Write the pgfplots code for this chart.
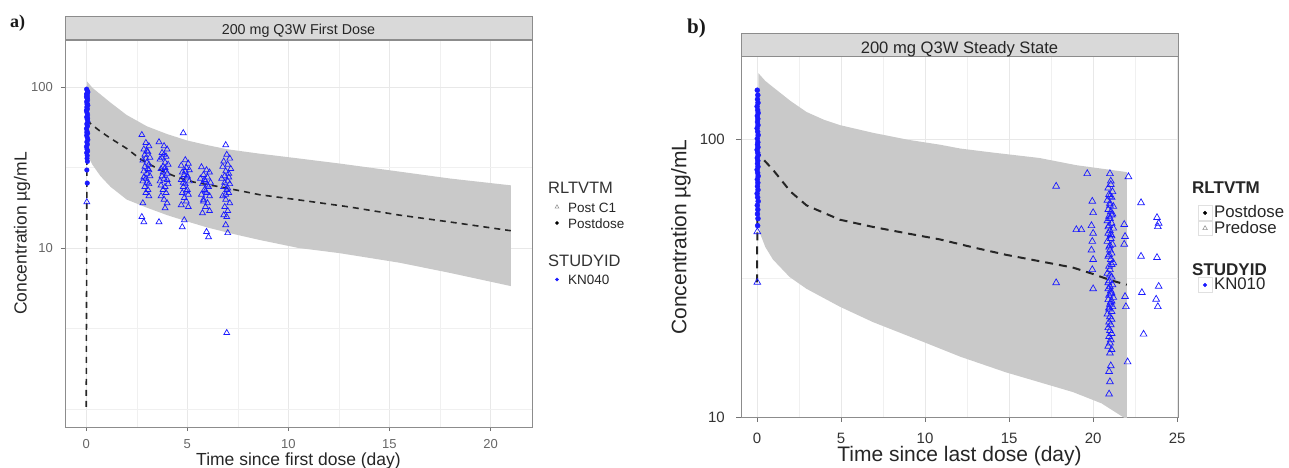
\documentclass[border=0pt]{standalone}
\usepackage{pgfplots}
\pgfplotsset{compat=1.18}
\usepackage{fontspec}
\setmainfont{Liberation Sans}
\newfontfamily\serifb{Liberation Serif}
\definecolor{band}{HTML}{C9C9C9}
\definecolor{strip}{HTML}{D9D9D9}
\definecolor{ptblue}{HTML}{1A1AFF}
\newcommand{\fs}[1]{\fontsize{#1}{#1}\selectfont}
\begin{document}
\begin{tikzpicture}
\useasboundingbox (0pt,0pt) rectangle (1289pt,467pt);
%================ panel a =================
\begin{axis}[scale only axis, anchor=south west, ymode=log, grid=both,
  /pgf/number format/assume math mode=true,
  major grid style={line width=0.8pt, color=black!9},
  minor grid style={line width=0.5pt, color=black!6},
  tick align=outside, tick pos=left, major tick length=4pt, minor tick length=0pt,
  tick style={black!55, line width=0.8pt},
  axis line style={black!45, line width=1pt},
  at={(65pt,40pt)}, width=467pt, height=387pt,
  xmin=-1.05, xmax=22.05, ymin=0.773, ymax=195.8,
  xtick={0,5,10,15,20}, minor xtick={2.5,7.5,12.5,17.5},
  ytick={10,100}, yticklabels={10,100}, minor ytick={1,3.162,31.62},
  xticklabel style={anchor=north, inner sep=0pt, font=\fs{13}, text=black!60, yshift=-8.4pt},
  yticklabel style={anchor=east, inner sep=0pt, font=\fs{13}, text=black!60, xshift=-8pt},
  xlabel={Time since first dose (day)},
  ylabel={Concentration µg/mL},
  xlabel style={at={(axis description cs:0.5,-0.0866)}, anchor=center, font=\fs{17.5}, text=black!85},
  ylabel style={at={(axis description cs:-0.0921,0.5)}, anchor=center, font=\fs{17.5}, text=black!85},
]
% prediction band
\addplot[fill=band, draw=none] coordinates {
 (0.05,108) (0.3,99) (0.7,90) (1.2,80) (2,67) (3,57) (4,51) (5,46.5) (6,43.5) (7,41)
 (8.6,38.5) (10.5,36) (12.5,33.5) (15.5,29.8) (18,27) (21,24.5)
 (21,5.8) (18,7) (15.5,8.1) (12.5,9.3) (10.5,10) (8.6,11.2) (7.3,12.2) (6,13.4) (5,14.6)
 (4,16) (3,17.8) (2,20) (1.2,24) (0.7,28) (0.3,33) (0.05,38)};
% median
\addplot[black!85, line width=1.6pt, dash pattern=on 6pt off 5pt] coordinates {
 (0,1.03) (0.04,62) (0.3,58) (0.7,53) (1.2,48) (2,41.5) (2.7,35.5) (3.65,30.5) (4.5,27.5)
 (5.3,25.7) (6.9,23.6) (8.6,21.4) (10.5,19.9) (13,18) (15.5,16) (18,14.5) (21,12.8)};
% postdose observations
\addplot[only marks, mark=*, mark size=2.3pt, ptblue, mark options={draw=ptblue, fill=ptblue}] coordinates {
 (0.02,97) (0.05,95) (0.08,93) (0.03,91) (0.06,89) (0.01,87) (0.04,85) (0.07,83) (0.02,81)
 (0.05,79) (0.08,77) (0.03,75) (0.06,73) (0.01,71) (0.04,69) (0.07,67) (0.02,65) (0.05,63)
 (0.08,61) (0.03,59) (0.06,57) (0.01,55) (0.04,53) (0.07,51.5) (0.02,50) (0.05,48.5)
 (0.08,47) (0.03,45.5) (0.06,44) (0.01,42.5) (0.04,41) (0.07,40) (0.02,39) (0.05,37.5)
 (0.04,36) (0.06,34.5) (0.03,30.5) (0.05,25.3) (0.02,90) (0.06,86) (0.04,78) (0.02,72)
 (0.07,64) (0.05,58) (0.03,52)};
% post C1 observations
\addplot[only marks, mark=triangle, mark size=3.4pt, ptblue, line width=0.7pt] coordinates {
 (0.03,19.3)
 (2.75,50.4) (2.95,45) (3.1,43) (2.85,41) (3.05,39.5) (2.9,38) (3.15,36.5) (2.8,35) (3.0,34)
 (3.1,33) (2.9,32) (3.05,31) (2.85,30) (3.0,29) (3.15,28) (2.95,27) (2.8,26) (3.1,25) (2.9,24)
 (3.05,23) (2.95,22) (3.1,21) (2.8,19) (2.75,15.6) (2.85,14.5) (3.0,40) (2.95,36) (3.1,30.5)
 (2.85,27.5) (3.0,25.5)
 (3.6,45.5) (3.85,43) (4.0,41) (3.75,39) (3.95,37) (3.65,35.5) (3.9,34) (4.05,33) (3.8,32)
 (3.7,31) (3.95,30) (4.0,29) (3.75,28) (3.85,27) (3.65,26) (4.05,25) (3.9,24) (3.8,23)
 (3.95,22) (3.7,21) (3.85,20) (4.0,19) (3.9,17.7) (3.6,14.5) (3.75,36.5) (3.9,31.5)
 (3.8,29.5) (4.0,26.5) (3.7,24.5) (3.85,38)
 (4.8,51.8) (4.9,35.2) (5.05,33.5) (4.7,32.5) (4.95,31.5) (5.1,30.5) (4.75,29.5) (4.85,28.5)
 (5.0,27.5) (4.7,26.5) (5.1,26) (4.9,25) (4.8,24) (5.0,23) (4.75,22) (5.05,21.5) (4.85,20.5)
 (4.95,19.5) (4.7,18.5) (5.05,18) (4.85,14.9) (4.75,13.5) (4.9,30) (5.0,28) (4.8,25.5) (4.95,22.5)
 (5.7,31.8) (5.95,30.5) (6.1,29.5) (5.8,28.5) (6.0,27.5) (5.65,27) (5.9,26) (6.15,25.5)
 (5.75,25) (6.05,24) (5.85,23) (5.95,22) (5.7,21.5) (6.1,21) (5.8,20) (6.0,19) (5.9,18)
 (6.1,17) (5.75,16.5) (5.95,12.6) (6.05,11.7) (5.85,26.5) (6.0,24.5) (5.9,22.5) (5.8,19.5)
 (6.9,43.6) (6.95,38) (7.1,36) (6.8,34.5) (7.0,33) (6.75,32) (7.15,31) (6.9,30) (7.05,29)
 (6.85,28) (6.7,27) (7.0,26) (7.1,25) (6.8,24) (6.95,23) (7.05,22) (6.75,21) (6.9,20) (7.1,19)
 (6.85,18) (7.0,17) (6.8,16) (6.95,15.6) (6.9,13.9) (7.0,12.4) (6.95,2.97) (7.05,27.5)
 (6.85,25.5) (7.0,23.5) (6.9,21.5)};
\end{axis}
%================ panel b =================
\begin{axis}[scale only axis, anchor=south west, ymode=log, grid=both,
  /pgf/number format/assume math mode=true,
  major grid style={line width=0.8pt, color=black!9},
  minor grid style={line width=0.5pt, color=black!6},
  tick align=outside, tick pos=left, major tick length=5pt, minor tick length=0pt,
  tick style={black!55, line width=0.8pt},
  axis line style={black!45, line width=1pt},
  at={(741pt,50pt)}, width=437pt, height=360pt,
  xmin=-0.95, xmax=25.05, ymin=10, ymax=199,
  xtick={0,5,10,15,20,25}, minor xtick={2.5,7.5,12.5,17.5,22.5},
  ytick={10,100}, yticklabels={10,100}, minor ytick={31.62},
  xticklabel style={anchor=north, inner sep=0pt, font=\fs{15}, text=black!80, yshift=-11pt},
  yticklabel style={anchor=east, inner sep=0pt, font=\fs{15}, text=black!80, xshift=-11pt},
  xlabel={Time since last dose (day)},
  ylabel={Concentration µg/mL},
  xlabel style={at={(axis description cs:0.5,-0.1097)}, anchor=center, font=\fs{21}, text=black!85},
  ylabel style={at={(axis description cs:-0.1373,0.5)}, anchor=center, font=\fs{21}, text=black!85},
]
\addplot[fill=band, draw=none] coordinates {
 (0.08,174) (0.5,163) (0.95,155) (2,138) (2.95,126) (4,118) (4.93,113) (6.9,106) (9,100)
 (10.9,96) (12.1,93) (14,90) (16.8,86) (19,81) (22,76.5)
 (22,9.8) (20.5,11.2) (18.8,12.3) (14.8,14.5) (12.1,16.5) (9.86,18.7) (6.9,22) (4.93,25)
 (2.95,29) (1.94,32) (0.95,37) (0.5,41) (0.18,46) (0.08,52)};
\addplot[black!85, line width=2pt, dash pattern=on 8pt off 6pt] coordinates {
 (0,30.6) (0.05,90) (0.3,86) (0.95,78) (2,65) (2.95,58) (4.93,51.5) (6.9,48.5) (8.9,46)
 (10.9,43.7) (12.8,41) (14.8,38.5) (16.8,36.5) (18.8,34.6) (20,32.8) (21,31.2) (22,30)};
\addplot[only marks, mark=*, mark size=2.5pt, ptblue, mark options={draw=ptblue, fill=ptblue}] coordinates {
 (0.02,151) (0.05,145) (0.03,140) (0.06,136) (0.01,132) (0.04,128) (0.07,125) (0.02,122)
 (0.05,119) (0.03,116) (0.06,113) (0.01,110) (0.04,107) (0.07,104) (0.02,101) (0.05,98)
 (0.03,96) (0.06,94) (0.01,92) (0.04,90) (0.07,88) (0.02,86) (0.05,84) (0.03,82) (0.06,80)
 (0.01,78) (0.04,76) (0.07,74) (0.02,72) (0.05,70) (0.03,68) (0.06,66) (0.01,64) (0.04,62)
 (0.07,60) (0.02,58) (0.05,56) (0.03,54) (0.06,52) (0.04,49)};
\addplot[only marks, mark=triangle, mark size=3.9pt, ptblue, line width=0.7pt] coordinates {
 (0.02,46.6) (0.02,30.6)
 (17.8,68) (17.8,30.5) (19.0,47.4) (19.3,47.4) (19.65,75.5) (19.95,60) (20.0,54.6) (19.9,49)
 (20.0,46) (19.95,43) (19.9,40) (20.0,37) (19.95,34) (20.0,29) (21.85,49.5) (21.9,44.8)
 (21.85,42) (21.9,27.2) (21.95,25) (22.1,73.6) (22.05,15.8) (22.85,59.3) (22.85,38) (22.9,28.1)
 (23.0,19.9) (23.8,52.4) (23.9,50) (23.85,48.6) (23.8,37.6) (23.9,29.6) (23.75,26.6) (23.85,25)
 (21.0,75.5)
 (21.05,69) (20.9,67) (21.15,65) (20.95,63.5) (21.1,62) (20.85,60.5) (21.0,59) (21.2,57.5)
 (20.9,56) (21.05,55) (21.15,54) (20.95,53) (21.0,52) (20.85,51) (21.1,50) (20.95,49)
 (21.2,48) (21.0,47) (20.9,46) (21.1,45) (21.05,44) (20.85,43) (21.15,42) (20.95,41) (21.0,40)
 (21.1,39) (20.9,38) (21.05,37) (21.2,36) (20.95,35) (21.0,34) (20.85,33) (21.1,32) (20.95,31)
 (21.15,30) (21.0,29.5) (20.9,29) (21.05,28.5) (21.1,28) (20.95,27.5) (21.2,27) (20.9,26.5)
 (21.05,26) (21.0,25.5) (21.15,25) (20.95,24.5) (21.1,24) (20.85,23.5) (21.0,23) (21.1,22.5)
 (20.95,22) (21.05,21.5) (20.9,21) (21.0,20.5) (21.1,20) (20.95,19.5) (21.05,19) (21.0,18.5)
 (20.9,18) (21.1,17.5) (21.0,17) (21.05,15.3) (20.95,14.6) (21.0,13.4) (20.95,12.1) (21.0,58)
 (21.1,53.5) (20.9,48.5) (21.05,45.5) (21.0,41.5) (20.95,38.5) (21.1,35.5) (21.0,32.5)
 (20.9,30.5) (21.05,27.8) (21.1,26.2) (20.95,24.8) (21.0,62.5) (21.05,71)};
\end{axis}
%================ legends =================
\begin{axis}[hide axis, scale only axis, width=1pt, height=1pt, anchor=center,
  xmin=0, xmax=1, ymin=0, ymax=1, legend cell align=left, at={(553pt,252pt)},
  legend style={at={(0.5,0.5)}, anchor=west, draw=none, fill=none, inner sep=0pt, outer sep=0pt,
   row sep=0pt, column sep=0pt, nodes={inner sep=0pt, text height=13pt, text depth=3pt, font=\fs{13.5}, text=black!85}}]
\addlegendimage{legend image code/.code={\path[draw=none, fill=none] (0pt,0pt) rectangle (15pt,0pt); \path[draw=none, fill=none] plot[only marks, mark=triangle, mark size=2.2pt, mark options={draw=black!40, fill=none, line width=0.6pt}] coordinates {(4pt,0pt)};}}
\addlegendentry{Post C1}
\addlegendimage{legend image code/.code={\path[draw=none, fill=none] (0pt,0pt) rectangle (15pt,0pt); \path[draw=none, fill=none] plot[only marks, mark=*, mark size=1.6pt, mark options={draw=black, fill=black}] coordinates {(4pt,0pt)};}}
\addlegendentry{Postdose}
\end{axis}
\begin{axis}[hide axis, scale only axis, width=1pt, height=1pt, anchor=center,
  xmin=0, xmax=1, ymin=0, ymax=1, legend cell align=left, at={(553pt,187.5pt)},
  legend style={at={(0.5,0.5)}, anchor=west, draw=none, fill=none, inner sep=0pt, outer sep=0pt,
   row sep=0pt, column sep=0pt, nodes={inner sep=0pt, text height=13pt, text depth=3pt, font=\fs{13.5}, text=black!85}}]
\addlegendimage{legend image code/.code={\path[draw=none, fill=none] (0pt,0pt) rectangle (15pt,0pt); \path[draw=none, fill=none] plot[only marks, mark=*, mark size=1.6pt, mark options={draw=ptblue, fill=ptblue}] coordinates {(4pt,0pt)};}}
\addlegendentry{KN040}
\end{axis}
\begin{axis}[hide axis, scale only axis, width=1pt, height=1pt, anchor=center,
  xmin=0, xmax=1, ymin=0, ymax=1, legend cell align=left, at={(1197.5pt,246.4pt)},
  legend style={at={(0.5,0.5)}, anchor=west, draw=none, fill=none, inner sep=0pt, outer sep=0pt,
   row sep=0pt, column sep=0pt, nodes={inner sep=0pt, text height=12.6pt, text depth=2.7pt, font=\fs{16.8}, text=black!85}}]
\addlegendimage{legend image code/.code={\path[draw=none, fill=none] (0pt,0pt) rectangle (16.5pt,0pt); \path[draw=black!12, line width=0.7pt, fill=white] (0.3pt,-7.2pt) rectangle (14.7pt,7.2pt); \path[draw=none, fill=none] plot[only marks, mark=*, mark size=1.8pt, mark options={draw=black, fill=black}] coordinates {(7.5pt,0pt)};}}
\addlegendentry{Postdose}
\addlegendimage{legend image code/.code={\path[draw=none, fill=none] (0pt,0pt) rectangle (16.5pt,0pt); \path[draw=black!12, line width=0.7pt, fill=white] (0.3pt,-7.2pt) rectangle (14.7pt,7.2pt); \path[draw=none, fill=none] plot[only marks, mark=triangle, mark size=2.6pt, mark options={draw=black!40, fill=none, line width=0.6pt}] coordinates {(7.5pt,0pt)};}}
\addlegendentry{Predose}
\end{axis}
\begin{axis}[hide axis, scale only axis, width=1pt, height=1pt, anchor=center,
  xmin=0, xmax=1, ymin=0, ymax=1, legend cell align=left, at={(1197.5pt,182pt)},
  legend style={at={(0.5,0.5)}, anchor=west, draw=none, fill=none, inner sep=0pt, outer sep=0pt,
   row sep=0pt, column sep=0pt, nodes={inner sep=0pt, text height=12.6pt, text depth=2.7pt, font=\fs{16.8}, text=black!85}}]
\addlegendimage{legend image code/.code={\path[draw=none, fill=none] (0pt,0pt) rectangle (16.5pt,0pt); \path[draw=black!12, line width=0.7pt, fill=white] (0.3pt,-7.2pt) rectangle (14.7pt,7.2pt); \path[draw=none, fill=none] plot[only marks, mark=*, mark size=1.8pt, mark options={draw=ptblue, fill=ptblue}] coordinates {(7.5pt,0pt)};}}
\addlegendentry{KN010}
\end{axis}
%================ strips, titles, labels =================
\draw[black!45, line width=1pt, fill=strip] (65pt,427pt) rectangle (532pt,450pt);
\node[anchor=base, inner sep=0pt, font=\fs{14.3}, text=black!85] at (298.5pt,432pt) {200 mg Q3W First Dose};
\draw[black!45, line width=1pt, fill=strip] (741pt,410pt) rectangle (1178pt,433pt);
\node[anchor=base, inner sep=0pt, font=\fs{16.6}, text=black!85] at (959.5pt,413.7pt) {200 mg Q3W Steady State};
\node[anchor=base west, inner sep=0pt, font=\fs{16.5}, text=black!80] at (548pt,273.7pt) {RLTVTM};
\node[anchor=base west, inner sep=0pt, font=\fs{16.5}, text=black!80] at (548pt,200.3pt) {STUDYID};
\node[anchor=base west, inner sep=0pt, font=\bfseries\fs{17}, text=black!85] at (1192pt,273.7pt) {RLTVTM};
\node[anchor=base west, inner sep=0pt, font=\bfseries\fs{17}, text=black!85] at (1192pt,192pt) {STUDYID};
\node[anchor=base west, inner sep=0pt, font=\serifb\bfseries\fs{18}, text=black!90] at (10pt,439pt) {a)};
\node[anchor=base west, inner sep=0pt, font=\serifb\bfseries\fs{21}, text=black!90] at (687pt,433.4pt) {b)};
\end{tikzpicture}
\end{document}
